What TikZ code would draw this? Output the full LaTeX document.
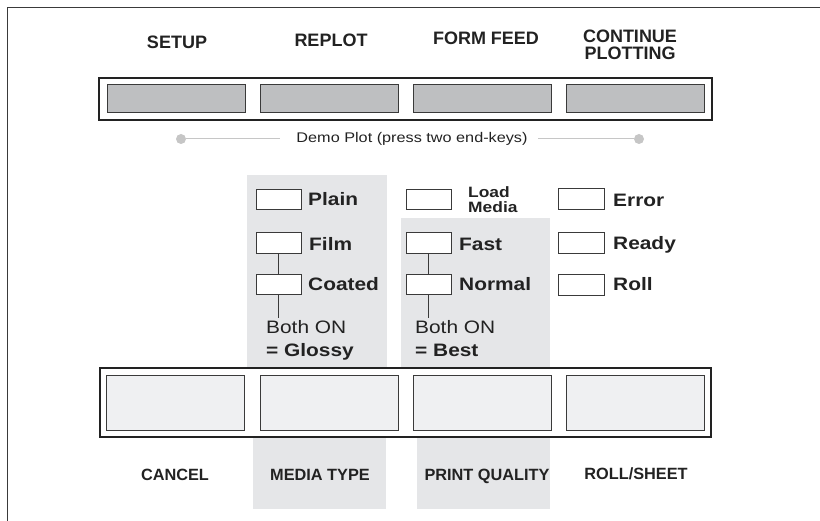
\documentclass[tikz,border=0pt]{standalone}
\usepackage{fontspec}
\setmainfont{Liberation Sans}
\newfontfamily\widefont[FakeStretch=1.16]{Liberation Sans}
\definecolor{keydark}{HTML}{BEBFC1}
\definecolor{keylight}{HTML}{EFF0F2}
\definecolor{shadecol}{HTML}{E5E6E8}
\definecolor{ink}{HTML}{222222}
\definecolor{demogray}{HTML}{C6C6C6}
\definecolor{edgecol}{HTML}{3A3A3A}
\tikzset{
  framelinе/.style={},
  frameline/.style={draw=edgecol, line width=1.5pt},
  barbox/.style={draw=ink, fill=white, line width=1.2pt, inner sep=0pt},
  keytop/.style={draw=edgecol, fill=keydark, line width=1pt, minimum width=138pt, minimum height=28pt, inner sep=0pt},
  keybot/.style={draw=edgecol, fill=keylight, line width=1pt, minimum width=138pt, minimum height=55pt, inner sep=0pt},
  led/.style={draw=edgecol, fill=white, line width=0.9pt, minimum width=45pt, minimum height=20.5pt, inner sep=0pt},
  toplabel/.style={inner sep=0pt, text=ink, font=\fontsize{18}{17.4}\selectfont\bfseries},
  botlabel/.style={inner sep=0pt, text=ink, font=\fontsize{16.3}{16.3}\selectfont\bfseries, anchor=base},
  midlabel/.style={inner sep=0pt, text=ink, font=\widefont\fontsize{18}{18}\selectfont\bfseries, anchor=base west},
  bothlabel/.style={inner sep=0pt, text=ink, align=left, anchor=north west, font=\widefont\fontsize{18}{23}\selectfont},
  demotext/.style={inner sep=0pt, text=ink, font=\widefont\fontsize{14}{14}\selectfont, anchor=base},
  demodot/.style={circle, fill=demogray, minimum size=10pt, inner sep=0pt},
  demoline/.style={draw=demogray, line width=1pt},
  joinline/.style={draw=edgecol, line width=0.9pt},
  shaded/.style={fill=shadecol, draw=none}
}
\begin{document}
\begin{tikzpicture}[x=1pt,y=-1pt]
\useasboundingbox (0,0) rectangle (820,521);
% frame
\draw[frameline] (7.3,521) -- (7.3,7.3) -- (820,7.3);
% shaded columns
\fill[shaded] (247,175) rectangle (387,368);
\fill[shaded] (253,437) rectangle (386,509);
\fill[shaded] (401,218) rectangle (550,368);
\fill[shaded] (417,437) rectangle (550,509);
% top labels
\node[toplabel, anchor=base] (lsetup) at (177,48.3) {SETUP};
\node[toplabel, anchor=base] (lreplot) at (331,46.7) {REPLOT};
\node[toplabel, anchor=base] (lform) at (486,44.3) {FORM FEED};
\node[toplabel, anchor=north, align=center] (lcont) at (630,29.6) {CONTINUE\\PLOTTING};
% top bar
\node[barbox, minimum width=613pt, minimum height=42pt] (topbar) at (405.5,99) {};
\node[keytop] (k1) at (176,99) {};
\node[keytop] (k2) at (329,99) {};
\node[keytop] (k3) at (482,99) {};
\node[keytop] (k4) at (635,99) {};
% demo plot
\node[demotext] (demo) at (412,142.7) {Demo Plot (press two end-keys)};
\node[demodot] (dl) at (181,139) {};
\node[demodot] (dr) at (639,139) {};
\coordinate (dle) at (280,139);
\coordinate (drs) at (538,139);
\draw[demoline] (dl) -- (dle);
\draw[demoline] (drs) -- (dr);
% media type leds
\node[led] (plain) at (278.5,199.5) {};
\node[led] (film) at (278.5,243) {};
\node[led] (coated) at (278.5,284.5) {};
\node[midlabel] (lplain) at (308,206) {Plain};
\node[midlabel] (lfilm) at (309,251) {Film};
\node[midlabel] (lcoated) at (308,291) {Coated};
\coordinate (gend) at (278.5,318);
\draw[joinline] (film.south) -- (coated.north);
\draw[joinline] (coated.south) -- (gend);
\node[bothlabel] (glossy) at (266,320) {Both ON\\\textbf{= Glossy}};
% quality leds
\node[led] (load) at (428.5,199.5) {};
\node[led] (fast) at (428.5,243) {};
\node[led] (normal) at (428.5,284.5) {};
\node[inner sep=0pt, text=ink, align=left, anchor=north west, font=\widefont\fontsize{15}{15.4}\selectfont\bfseries] (lload) at (468,186.5) {Load\\Media};
\node[midlabel] (lfast) at (459,251) {Fast};
\node[midlabel] (lnormal) at (459,291) {Normal};
\coordinate (bend) at (428.5,318);
\draw[joinline] (fast.south) -- (normal.north);
\draw[joinline] (normal.south) -- (bend);
\node[bothlabel] (best) at (415,320) {Both ON\\\textbf{= Best}};
% status leds
\node[led, minimum width=46pt] (error) at (581,199) {};
\node[led, minimum width=46pt] (ready) at (581,243) {};
\node[led, minimum width=46pt] (roll) at (581,285) {};
\node[midlabel] (lerror) at (613,206.5) {Error};
\node[midlabel] (lready) at (613,250) {Ready};
\node[midlabel] (lroll) at (613,290.5) {Roll};
% bottom bar
\node[barbox, minimum width=611pt, minimum height=69pt] (botbar) at (405.5,402.5) {};
\node[keybot] (b1) at (175,403.5) {};
\node[keybot] (b2) at (329,403.5) {};
\node[keybot] (b3) at (482.5,403.5) {};
\node[keybot] (b4) at (635.5,403.5) {};
% bottom labels
\node[botlabel] (lcancel) at (175,480) {CANCEL};
\node[botlabel] (lmedia) at (320,480) {MEDIA TYPE};
\node[botlabel] (lquality) at (487,480) {PRINT QUALITY};
\node[botlabel] (lroll2) at (636,479) {ROLL/SHEET};
\end{tikzpicture}
\end{document}
